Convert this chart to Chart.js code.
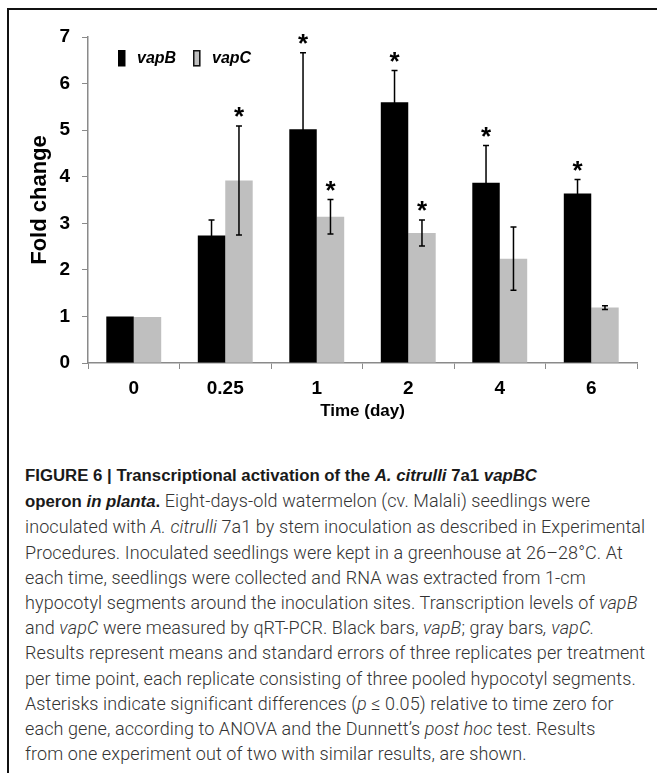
<!DOCTYPE html>
<html>
<head>
<meta charset="utf-8">
<script src="https://cdn.jsdelivr.net/npm/chart.js@4.4.1/dist/chart.umd.min.js"></script>
<style>
  html, body { margin: 0; padding: 0; background: #fff; }
  body { width: 657px; height: 773px; overflow: hidden; position: relative; }
  .frame { position: absolute; left: 7px; top: 8px; width: 700px; height: 820px; border: 2px solid #111; box-sizing: border-box; }
  .plot { position: absolute; left: 0; top: 0; width: 657px; height: 430px; }
  .caption {
    position: absolute; left: 25px; top: 462px; width: 630px;
    font-family: Roboto, "Liberation Sans", sans-serif; font-weight: 300;
    font-size: 18px; letter-spacing: 0.1px; line-height: 25.2px; color: #333; white-space: nowrap;
  }
  .caption b { font-family: "Liberation Sans", Arial, sans-serif; font-size: 16.8px; letter-spacing: 0; font-weight: 700; color: #1a1a1a; }
</style>
</head>
<body>
<div class="frame"></div>
<div class="plot"><canvas id="chart"></canvas></div>
<div class="caption">
  <b>FIGURE 6 | Transcriptional activation of the <i>A. citrulli</i> 7a1 <i>vapBC</i></b><br>
  <b>operon <i>in planta</i>.</b> Eight-days-old watermelon (cv. Malali) seedlings were<br>
  inoculated with <i>A. citrulli</i> 7a1 by stem inoculation as described in Experimental<br>
  Procedures. Inoculated seedlings were kept in a greenhouse at 26–28°C. At<br>
  each time, seedlings were collected and RNA was extracted from 1-cm<br>
  hypocotyl segments around the inoculation sites. Transcription levels of <i>vapB</i><br>
  and <i>vapC</i> were measured by qRT-PCR. Black bars, <i>vapB</i>; gray bars<i>, vapC.</i><br>
  Results represent means and standard errors of three replicates per treatment<br>
  per time point, each replicate consisting of three pooled hypocotyl segments.<br>
  Asterisks indicate significant differences (<i>p</i> ≤ 0.05) relative to time zero for<br>
  each gene, according to ANOVA and the Dunnett’s <i>post hoc</i> test. Results<br>
  from one experiment out of two with similar results, are shown.
</div>
<script>
// time points (days)
const aCategories = ['0', '0.25', '1', '2', '4', '6'];

// fold change, means and standard errors
const aVapB = [1.00, 2.74, 5.02, 5.60, 3.87, 3.64];
const aVapBErr = [0, 0.33, 1.64, 0.68, 0.80, 0.30];
const aVapC = [0.99, 3.92, 3.14, 2.79, 2.24, 1.19];
const aVapCErr = [0, 1.17, 0.37, 0.28, 0.68, 0.04];

// significance vs time zero (asterisks)
const aVapBSig = [false, false, true, true, true, true];
const aVapCSig = [false, true, true, true, false, false];

// y axis
const aYTicks = [0, 1, 2, 3, 4, 5, 6, 7];

const sFont = '"Liberation Sans", Arial, sans-serif';
const sAxisColor = '#8a8a8a';

// draws the error bars and the asterisks above them
const oErrorPlugin = {
  id: 'errorBars',
  afterDatasetsDraw(chart) {
    const oCtx = chart.ctx;
    const oY = chart.scales.y;
    chart.data.datasets.forEach((ds, i) => {
      const oMeta = chart.getDatasetMeta(i);
      oMeta.data.forEach((bar, j) => {
        const v = ds.data[j];
        const e = ds.errors[j];
        const yTop = oY.getPixelForValue(v + e);
        const yBot = oY.getPixelForValue(v - e);
        oCtx.save();
        if (e > 0) {
          oCtx.strokeStyle = '#000';
          oCtx.lineWidth = 1.5;
          oCtx.beginPath();
          oCtx.moveTo(bar.x, yBot);
          oCtx.lineTo(bar.x, yTop);
          oCtx.moveTo(bar.x - 3, yTop);
          oCtx.lineTo(bar.x + 3, yTop);
          oCtx.moveTo(bar.x - 3, yBot);
          oCtx.lineTo(bar.x + 3, yBot);
          oCtx.stroke();
        }
        if (ds.sig[j]) {
          oCtx.fillStyle = '#000';
          oCtx.font = 'bold 26px ' + sFont;
          oCtx.textAlign = 'center';
          oCtx.textBaseline = 'alphabetic';
          oCtx.fillText('*', bar.x, yTop - 1);
        }
        oCtx.restore();
      });
    });
  }
};

// legend drawn inside the plot, top left
const oLegendPlugin = {
  id: 'insideLegend',
  afterDraw(chart) {
    const oCtx = chart.ctx;
    const aPos = [118, 193];
    oCtx.save();
    oCtx.font = 'italic bold 16px ' + sFont;
    oCtx.textBaseline = 'middle';
    oCtx.textAlign = 'left';
    chart.data.datasets.forEach((ds, i) => {
      const x = aPos[i];
      oCtx.fillStyle = ds.backgroundColor;
      oCtx.fillRect(x, 50, 7.5, 16.5);
      if (i > 0) {
        oCtx.strokeStyle = '#111';
        oCtx.lineWidth = 1.5;
        oCtx.strokeRect(x + 0.75, 50.75, 6, 15);
      }
      oCtx.fillStyle = '#000';
      oCtx.fillText(ds.label, x + 19, 59);
    });
    oCtx.restore();
  }
};

const oContext = document.getElementById('chart').getContext('2d');
const oChart = new Chart(oContext, {
  type: 'bar',
  data: {
    labels: aCategories,
    datasets: [
      {
        label: 'vapB',
        data: aVapB,
        errors: aVapBErr,
        sig: aVapBSig,
        backgroundColor: '#000000',
        borderWidth: 0
      },
      {
        label: 'vapC',
        data: aVapC,
        errors: aVapCErr,
        sig: aVapCSig,
        backgroundColor: '#bfbfbf',
        borderWidth: 0
      }
    ]
  },
  options: {
    responsive: true,
    maintainAspectRatio: false,
    animation: false,
    layout: { padding: { left: 20, right: 20, top: 37, bottom: 0 } },
    datasets: { bar: { categoryPercentage: 0.6, barPercentage: 1.0 } },
    scales: {
      x: {
        type: 'category',
        grid: { drawOnChartArea: false, drawTicks: true, tickLength: 6, color: sAxisColor, offset: true },
        border: { color: sAxisColor, width: 1.5 },
        ticks: { color: '#000', font: { family: sFont, size: 19, weight: 'bold' }, padding: 8, maxRotation: 0 },
        title: { display: true, text: 'Time (day)', color: '#000', font: { family: sFont, size: 17, weight: 'bold' }, padding: { top: 0, bottom: 8 } },
        afterFit(scale) { scale.height = 67; }
      },
      y: {
        min: 0,
        max: 7,
        afterBuildTicks(scale) { scale.ticks = aYTicks.map(v => ({ value: v })); },
        grid: { drawOnChartArea: false, drawTicks: true, tickLength: 6, color: sAxisColor },
        border: { color: sAxisColor, width: 1.5 },
        ticks: { color: '#000', font: { family: sFont, size: 19, weight: 'bold' }, padding: 12 },
        title: { display: true, text: 'Fold change', color: '#000', font: { family: sFont, size: 22, weight: 'bold' }, padding: { top: 7, bottom: 0 } },
        afterFit(scale) { scale.width = 68; }
      }
    },
    plugins: {
      legend: { display: false },
      tooltip: { enabled: false }
    }
  },
  plugins: [oErrorPlugin, oLegendPlugin]
});
</script>
</body>
</html>
